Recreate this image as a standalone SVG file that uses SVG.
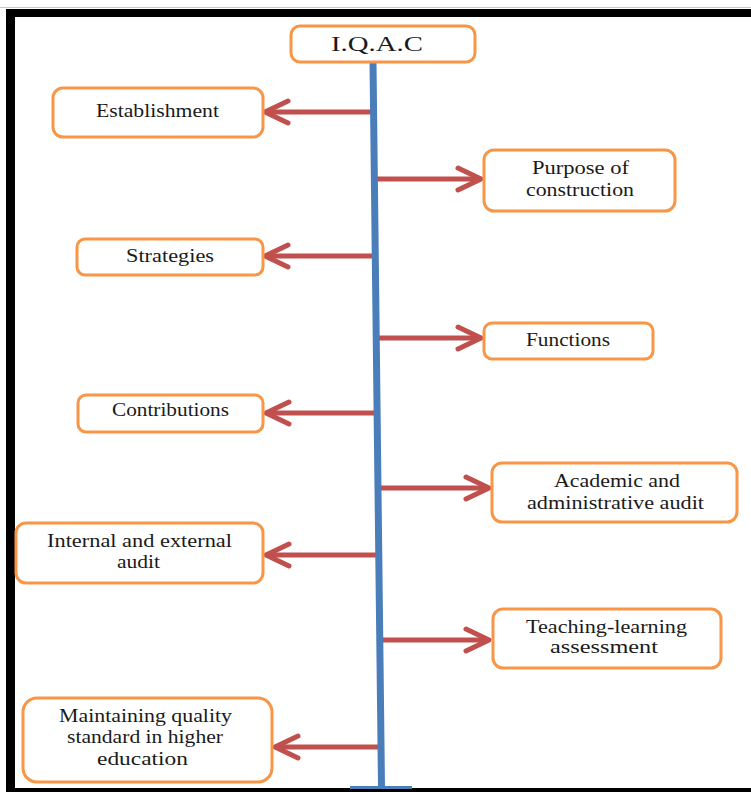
<svg xmlns="http://www.w3.org/2000/svg" width="751" height="792" viewBox="0 0 751 792">
<style>
.box{fill:#fff;stroke:#f79646;stroke-width:3}
.t{font-family:"Liberation Serif","Times New Roman",serif;font-size:18px;fill:#1a1a1a;text-anchor:middle}
.arr{stroke:#c0504d;stroke-width:5;fill:none;marker-end:url(#head)}
.frame{fill:#000}
</style>
<defs>
<marker id="head" markerUnits="userSpaceOnUse" viewBox="-30 -16 34 32" refX="0" refY="0" markerWidth="34" markerHeight="32" orient="auto" overflow="visible">
<path d="M -23 -11 L 0 0 L -23 11" fill="none" stroke="#c0504d" stroke-width="5" stroke-linecap="round" stroke-linejoin="round"/>
</marker>
</defs>
<rect width="751" height="792" fill="#fff"/>
<g id="frame">
<rect x="0" y="7" width="751" height="1" fill="#c8c8c8"/>
<rect class="frame" x="6" y="9" width="745" height="8"/>
<rect class="frame" x="6" y="9" width="9" height="783"/>
<rect class="frame" x="6" y="788" width="745" height="4"/>
</g>
<g id="connectors">
<line x1="373.6" y1="112" x2="265" y2="112" class="arr"/>
<line x1="374" y1="179" x2="481" y2="179" class="arr"/>
<line x1="375" y1="256" x2="265" y2="256" class="arr"/>
<line x1="376" y1="338" x2="481" y2="338" class="arr"/>
<line x1="377" y1="413" x2="266" y2="413" class="arr"/>
<line x1="378" y1="488" x2="489" y2="488" class="arr"/>
<line x1="378" y1="555" x2="266" y2="555" class="arr"/>
<line x1="379" y1="640" x2="489" y2="640" class="arr"/>
<line x1="381" y1="747" x2="275" y2="747" class="arr"/>
<line x1="373" y1="62" x2="381.5" y2="788" stroke="#4a7ebb" stroke-width="7"/>
<rect x="350" y="786" width="62" height="3" fill="#4a7ebb"/>
</g>
<g id="iqac">
<rect class="box" x="291" y="26" width="184" height="36" rx="9"/>
<text class="t" x="377" y="51" style="font-size:21px" textLength="92" lengthAdjust="spacingAndGlyphs">I.Q.A.C</text>
</g>
<g id="establishment">
<rect class="box" x="53" y="88" width="210" height="49" rx="10"/>
<text class="t" x="157.5" y="117" textLength="123" lengthAdjust="spacingAndGlyphs">Establishment</text>
</g>
<g id="purpose">
<rect class="box" x="484" y="150" width="191" height="61" rx="10"/>
<text class="t" x="580.5" y="174" textLength="97" lengthAdjust="spacingAndGlyphs">Purpose of</text>
<text class="t" x="580" y="196" textLength="108" lengthAdjust="spacingAndGlyphs">construction</text>
</g>
<g id="strategies">
<rect class="box" x="77" y="239" width="186" height="36" rx="8"/>
<text class="t" x="170" y="262" textLength="88" lengthAdjust="spacingAndGlyphs">Strategies</text>
</g>
<g id="functions">
<rect class="box" x="484" y="323" width="169" height="36" rx="8"/>
<text class="t" x="568" y="346" textLength="84" lengthAdjust="spacingAndGlyphs">Functions</text>
</g>
<g id="contributions">
<rect class="box" x="78" y="395" width="185" height="37" rx="8"/>
<text class="t" x="170.5" y="416" textLength="117" lengthAdjust="spacingAndGlyphs">Contributions</text>
</g>
<g id="academic">
<rect class="box" x="492" y="463" width="245" height="59" rx="10"/>
<text class="t" x="617" y="487" textLength="126" lengthAdjust="spacingAndGlyphs">Academic and</text>
<text class="t" x="615.5" y="509" textLength="177" lengthAdjust="spacingAndGlyphs">administrative  audit</text>
</g>
<g id="internal">
<rect class="box" x="16" y="523" width="247" height="60" rx="10"/>
<text class="t" x="139.5" y="547" textLength="185" lengthAdjust="spacingAndGlyphs">Internal and external</text>
<text class="t" x="138.5" y="568" textLength="43" lengthAdjust="spacingAndGlyphs">audit</text>
</g>
<g id="teaching">
<rect class="box" x="493" y="609" width="228" height="59" rx="10"/>
<text class="t" x="606.5" y="633" textLength="161" lengthAdjust="spacingAndGlyphs">Teaching-learning</text>
<text class="t" x="604" y="653" textLength="108" lengthAdjust="spacingAndGlyphs">assessment</text>
</g>
<g id="maintaining">
<rect class="box" x="23" y="698" width="249" height="84" rx="14"/>
<text class="t" x="145.5" y="722" textLength="173" lengthAdjust="spacingAndGlyphs">Maintaining  quality</text>
<text class="t" x="145" y="743" textLength="156" lengthAdjust="spacingAndGlyphs">standard in higher</text>
<text class="t" x="142.5" y="765" textLength="91" lengthAdjust="spacingAndGlyphs">education</text>
</g>
</svg>
